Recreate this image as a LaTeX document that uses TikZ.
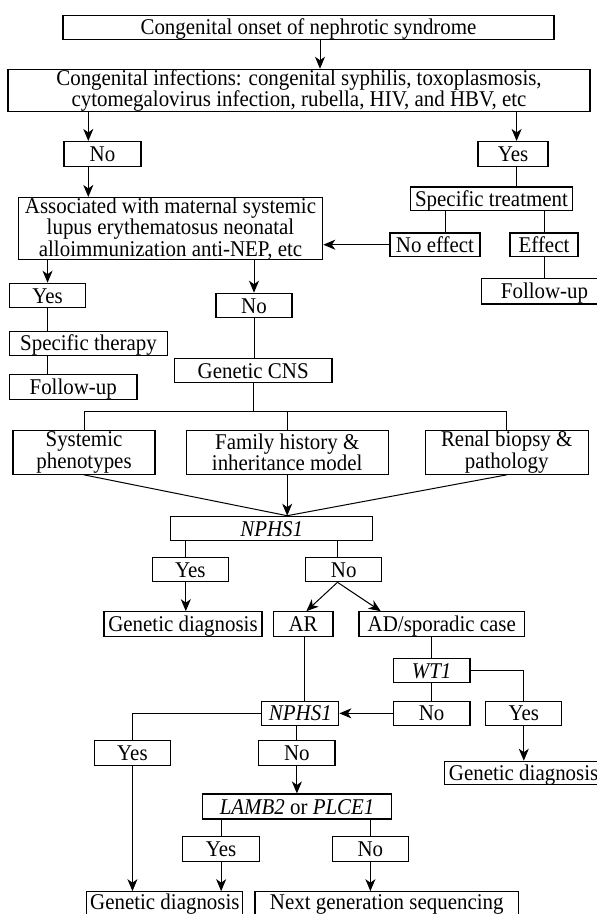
\documentclass[tikz,border=0pt]{standalone}
\usepackage{fontspec}
\setmainfont{Liberation Serif}[FakeStretch=0.93]
\usetikzlibrary{arrows.meta,calc}
\newcommand{\fsz}{\fontsize{22.5}{15.8}\selectfont}
\begin{document}
\begin{tikzpicture}[x=1pt,y=-1pt,
  box/.style={draw,line width=1.1pt,inner sep=0pt,align=center,font=\fsz},
  one/.style={box,text height=15pt,text depth=0pt,minimum height=24.5pt},
  ln/.style={line width=1pt},
  arr/.style={ln,-{Stealth[length=12pt,width=10pt,inset=3.5pt]}}]
\fill[white] (0,0) rectangle (597,914);
\useasboundingbox (0,0) rectangle (597,914);

% nodes
\node[one,minimum width=491pt,minimum height=24.3pt] (top) at (308.5,27.2) {Congenital onset of nephrotic syndrome};
\node[box,minimum width=582pt,minimum height=41pt,font=\fontsize{22.5}{16.5}\selectfont] (inf) at (299,90.5) {Congenital infections: congenital syphilis, toxoplasmosis,\\cytomegalovirus infection, rubella, HIV, and HBV, etc};
\node[one,minimum width=77pt,minimum height=25pt] (noA) at (102.5,154) {No};
\node[one,minimum width=70pt,minimum height=25pt] (yesA) at (513,154) {Yes};
\node[one,minimum width=161.5pt,minimum height=23.5pt] (spt) at (491.5,198.7) {Specific treatment};
\node[box,minimum width=304.5pt,minimum height=60pt] (assoc) at (170.5,228.5) {Associated with maternal systemic\\lupus erythematosus neonatal\\alloimmunization anti-NEP, etc};
\node[one,minimum width=90pt,minimum height=23.5pt] (noeff) at (435,244.7) {No effect};
\node[one,minimum width=68pt,minimum height=23.5pt] (eff) at (544,244.7) {Effect};
\node[one,minimum width=126pt,minimum height=25.5pt] (fuR) at (544.5,291.2) {Follow-up};
\node[one,minimum width=76pt] (yesB) at (47.55,295.5) {Yes};
\node[one,minimum width=76pt] (noB) at (254,305.5) {No};
\node[one,minimum width=158pt,minimum height=23.5pt] (sth) at (88.5,343.3) {Specific therapy};
\node[one,minimum width=127.5pt,minimum height=25pt] (fuL) at (73.25,387) {Follow-up};
\node[one,minimum width=157.7pt] (gcns) at (253.15,370.5) {Genetic CNS};
\node[box,minimum width=142pt,minimum height=44pt] (sys) at (84,452.3) {Systemic\\phenotypes};
\node[box,minimum width=202pt,minimum height=44pt] (fam) at (287.2,452.3) {Family history \&\\inheritance model};
\node[box,minimum width=163pt,minimum height=44pt] (ren) at (506.7,452.3) {Renal biopsy \&\\pathology};
\node[one,minimum width=202pt,minimum height=24.5pt] (nph1) at (271.7,528.5) {\textit{NPHS1}};
\node[one,minimum width=76pt] (yesC) at (190.35,569.5) {Yes};
\node[one,minimum width=76pt] (noC) at (343.75,569.5) {No};
\node[one,minimum width=158pt,minimum height=25pt] (gd1) at (183,624.2) {Genetic diagnosis};
\node[one,minimum width=59.7pt,minimum height=25pt] (ar) at (303.15,624.2) {AR};
\node[one,minimum width=165.6pt,minimum height=25pt] (ad) at (441.8,624.2) {AD/sporadic case};
\node[one,minimum width=76.7pt] (wt1) at (431.6,670.5) {\textit{WT1}};
\node[one,minimum width=76.9pt,minimum height=23.5pt] (nph2) at (300.35,713.35) {\textit{NPHS1}};
\node[one,minimum width=76.7pt,minimum height=23.5pt] (noD) at (431.6,713.35) {No};
\node[one,minimum width=76.2pt,minimum height=23.5pt] (yesD) at (523.8,713.35) {Yes};
\node[one,minimum width=76.1pt] (yesE) at (132.45,752.85) {Yes};
\node[one,minimum width=76.2pt] (noE) at (296.9,752.85) {No};
\node[one,minimum width=158pt,minimum height=23.5pt] (gd2) at (523.6,773) {Genetic diagnosis};
\node[one,minimum width=188.4pt,minimum height=25pt] (lamb) at (297.1,806.5) {\textit{LAMB2} or \textit{PLCE1}};
\node[one,minimum width=76.9pt,minimum height=25pt] (yesF) at (221.15,849.2) {Yes};
\node[one,minimum width=76.2pt,minimum height=25pt] (noF) at (370.4,849.2) {No};
\node[one,text depth=5pt,minimum width=156.1pt,minimum height=24.6pt] (gd3) at (164.85,904) {Genetic diagnosis};
\node[one,text depth=5pt,minimum width=263.5pt,minimum height=24.6pt] (ngs) at (386.75,904) {Next generation sequencing};

% helper x positions
\coordinate (xa) at (320,0);
\coordinate (xb) at (88.3,0);
\coordinate (xc) at (516.6,0);
\coordinate (xd) at (445,0);
\coordinate (xe) at (185.8,0);
\coordinate (xf) at (337.5,0);
\coordinate (xg) at (306.4,0);
\coordinate (xh) at (380.7,0);
\coordinate (xi) at (304.5,0);
\coordinate (bar) at (253,411.7);

% connectors
\draw[arr] (top.south -| xa) -- (inf.north -| xa);
\draw[arr] (inf.south -| xb) -- (noA.north -| xb);
\draw[arr] (noA.south -| xb) -- (assoc.north -| xb);
\draw[arr] (inf.south -| xc) -- (yesA.north -| xc);
\draw[ln] (yesA.south -| xc) -- (spt.north -| xc);
\draw[ln] (spt.south -| xd) -- (noeff.north -| xd);
\draw[ln] (spt.south -| eff) -- (eff.north);
\draw[ln] (eff.south) -- (fuR.north -| eff.south);
\draw[arr] (noeff.west) -- (assoc.east |- noeff.west);
\draw[arr] (assoc.south -| yesB) -- (yesB.north);
\draw[arr] (assoc.south -| noB) -- (noB.north);
\draw[ln] (yesB.south) -- (sth.north -| yesB.south);
\draw[ln] (sth.south -| yesB) -- (fuL.north -| yesB);
\draw[ln] (noB.south) -- (gcns.north -| noB.south);
\draw[ln] (gcns.south) -- (gcns.south |- bar);
\draw[ln] (sys.north) -- (sys.north |- bar) -- (ren.north |- bar) -- (ren.north);
\draw[ln] (fam.north) -- (fam.north |- bar);
\coordinate (tipN) at (nph1.north -| fam);
\draw[ln] (sys.south) -- (tipN);
\draw[ln] (ren.south) -- (tipN);
\draw[arr] (fam.south) -- (tipN);
\draw[ln] (nph1.south -| xe) -- (yesC.north -| xe);
\draw[arr] (yesC.south -| xe) -- (gd1.north -| xe);
\draw[ln] (nph1.south -| xf) -- (noC.north -| xf);
\draw[arr] (noC.south -| xf) -- (ar.north -| xg);
\draw[arr] (noC.south -| xf) -- (ad.north -| xh);
\draw[ln] (ar.south -| xi) -- (nph2.north -| xi);
\draw[ln] (ad.south -| wt1) -- (wt1.north);
\draw[ln] (wt1.south) -- (noD.north);
\draw[ln] (wt1.east) -| (yesD.north);
\draw[arr] (noD.west) -- (nph2.east);
\draw[ln] (nph2.west) -| (yesE.north);
\draw[ln] (nph2.south -| noE) -- (noE.north);
\draw[arr] (yesE.south) -- (gd3.north -| yesE);
\draw[arr] (noE.south) -- (lamb.north -| noE);
\draw[arr] (yesD.south) -- (gd2.north -| yesD);
\draw[ln] (lamb.south -| yesF) -- (yesF.north);
\draw[ln] (lamb.south -| noF) -- (noF.north);
\draw[arr] (yesF.south) -- (gd3.north -| yesF);
\draw[arr] (noF.south) -- (ngs.north -| noF);
\end{tikzpicture}
\end{document}
